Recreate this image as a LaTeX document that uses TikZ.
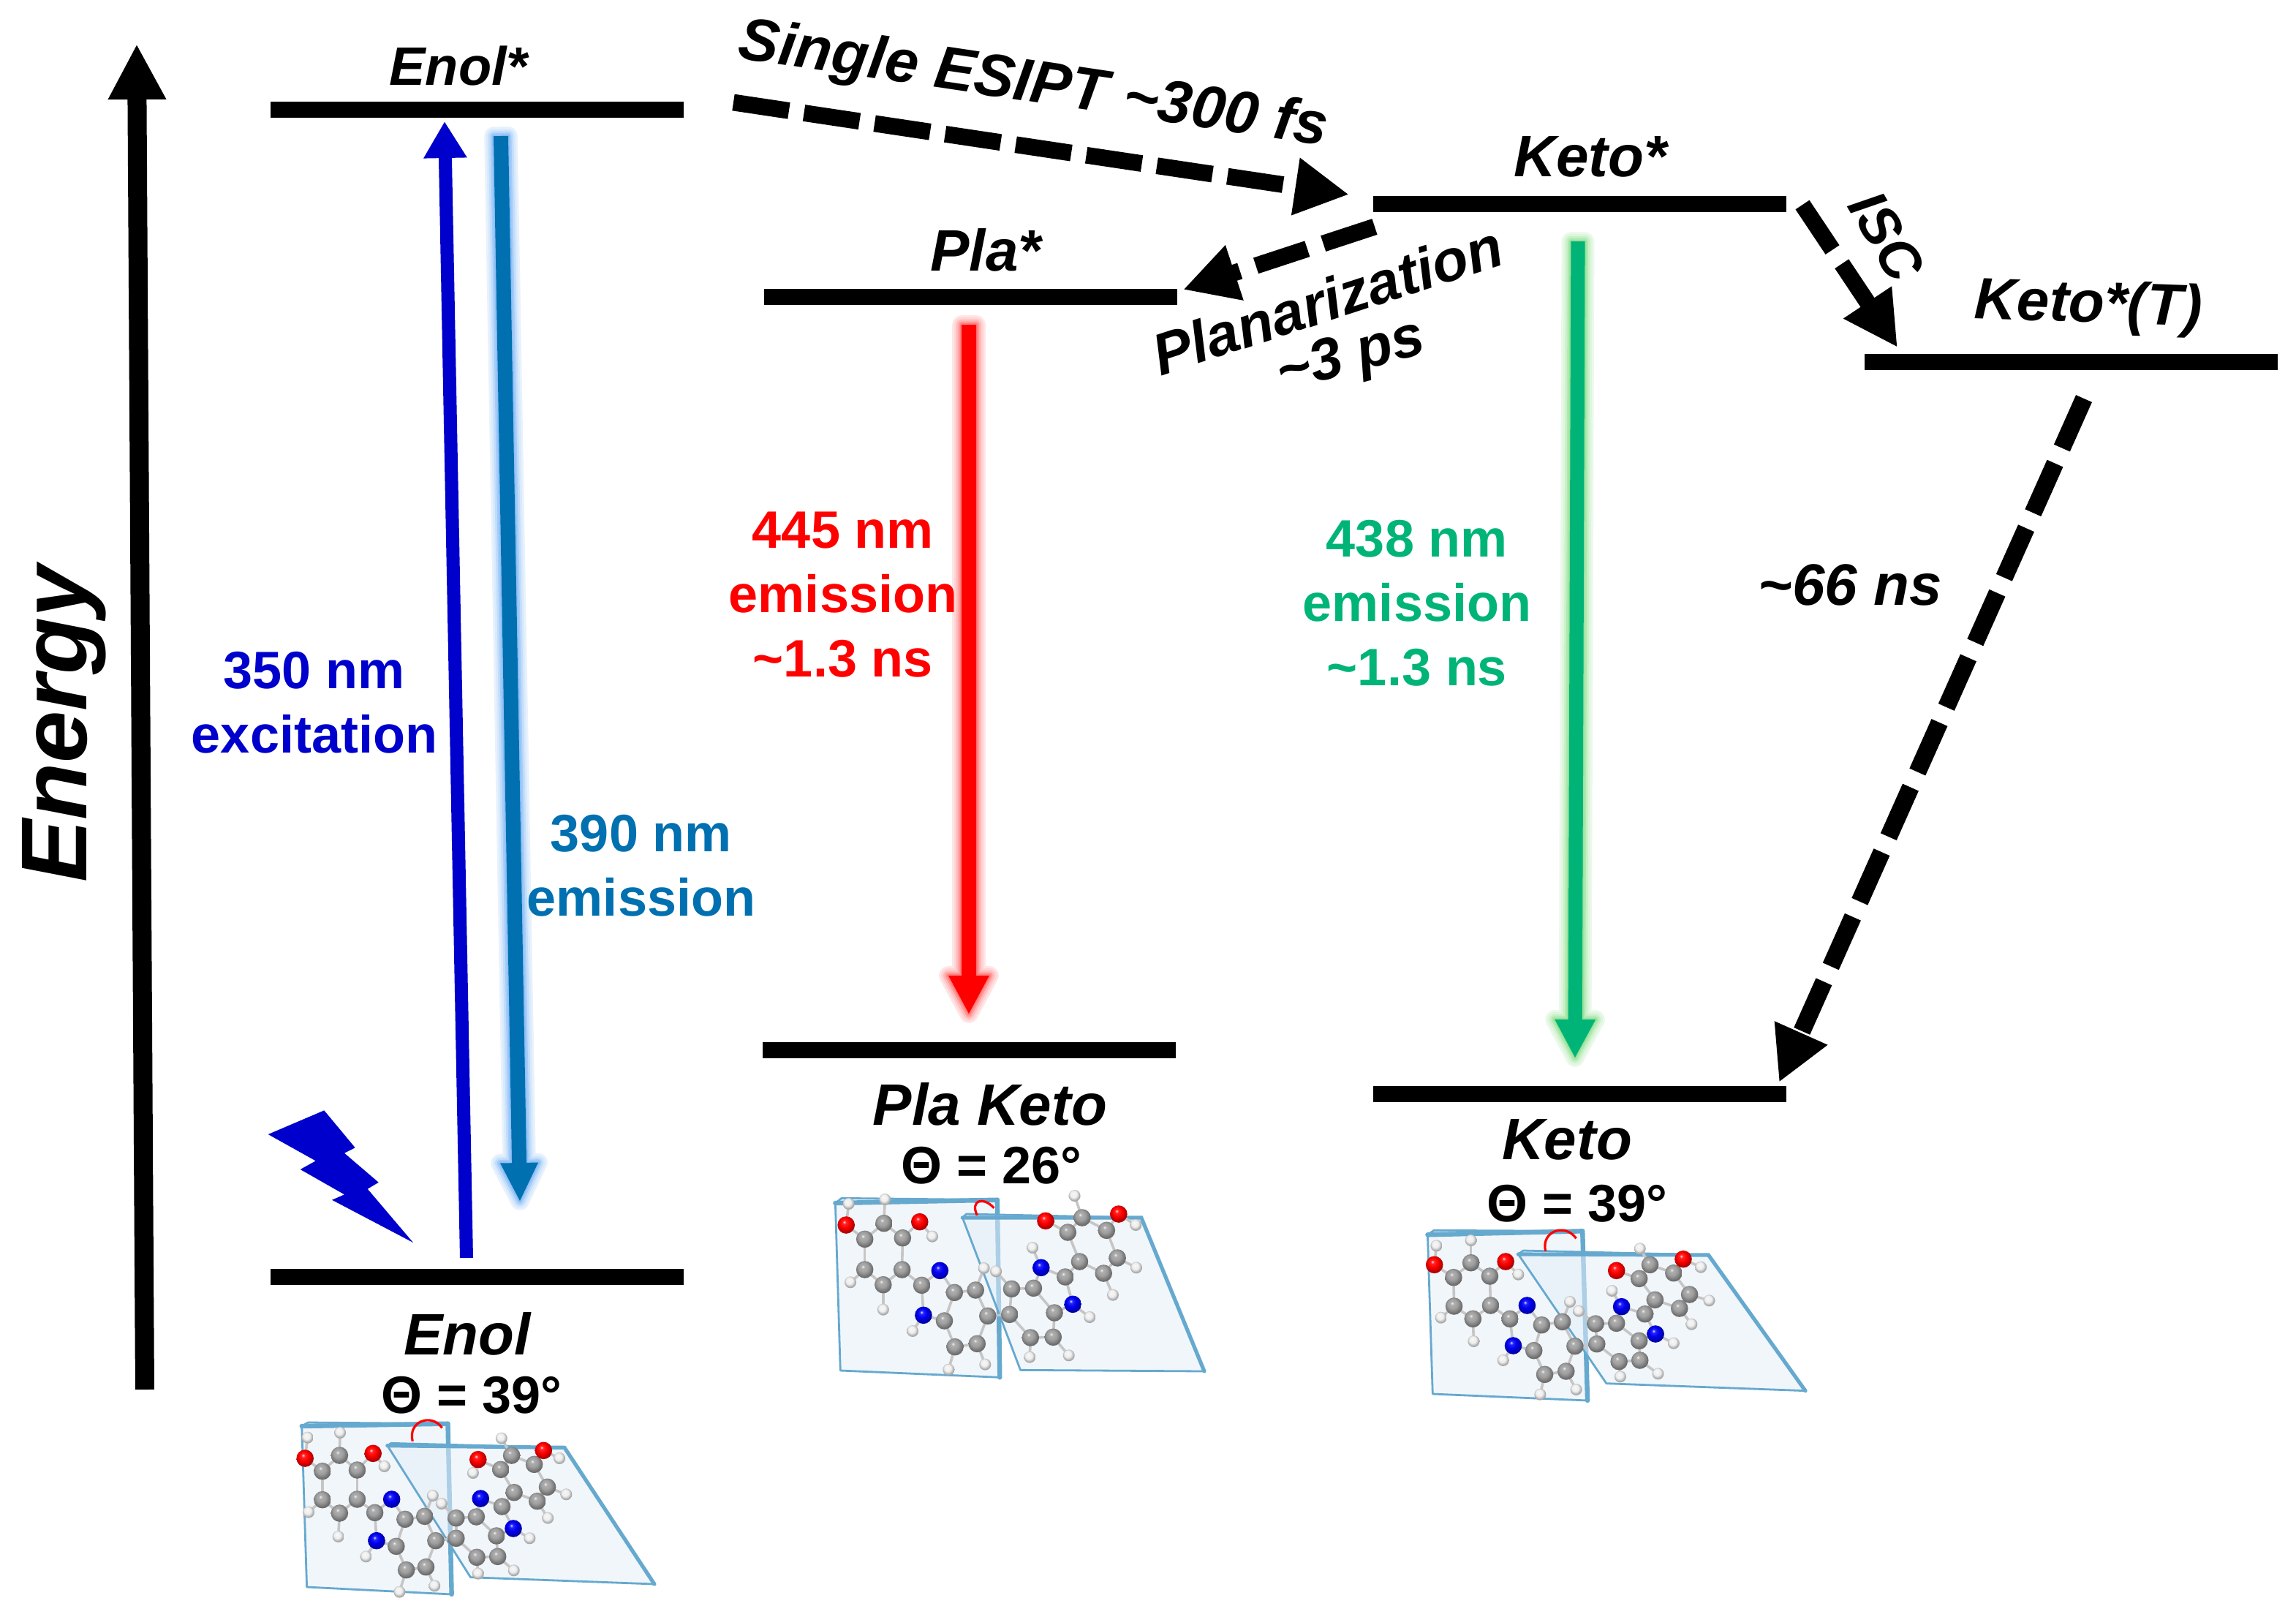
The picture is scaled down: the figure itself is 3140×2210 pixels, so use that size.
\documentclass[tikz,border=0pt]{standalone}
\usepackage{fontspec}
\setmainfont{Liberation Sans}
\usetikzlibrary{arrows.meta,calc}
\definecolor{exblue}{HTML}{0000CC}
\definecolor{emblue}{HTML}{0070B0}
\definecolor{emred}{HTML}{FF0000}
\definecolor{emgreen}{HTML}{00B478}
\definecolor{glowblue}{HTML}{80B8F5}
\definecolor{glowred}{HTML}{FF7070}
\definecolor{glowgreen}{HTML}{90E090}
\definecolor{plateedge}{HTML}{66A9CF}
\definecolor{platefill}{HTML}{E6F0F9}
\makeatletter
\pgfdeclareradialshading[tikz@ball]{softball}{\pgfqpoint{-6bp}{9bp}}{color(0bp)=(tikz@ball!10!white);color(5bp)=(tikz@ball!85!white);color(14bp)=(tikz@ball);color(25bp)=(tikz@ball!70!black);color(50bp)=(tikz@ball!55!black)}
\makeatother
\tikzset{
 level/.style={fill=black,inner sep=0pt,minimum width=141.25pt,minimum height=5.5pt},
 lab/.style={font=\fontsize{20}{24}\selectfont\bfseries\itshape,inner sep=0pt,text=black},
 theta/.style={font=\fontsize{18}{22}\selectfont\bfseries,inner sep=0pt},
 emis/.style={font=\fontsize{18}{22}\selectfont\bfseries,inner sep=0pt,align=center},
 dasharrow/.style={line width=5.7pt,dash pattern=on 18.5pt off 5.75pt,-{Triangle[length=18.5pt,width=18.5pt,sep=0pt]}},
 bond/.style={line width=0.9pt,draw=gray!45},
 plate/.style={fill=platefill,fill opacity=0.55,draw=plateedge,line width=0.7pt,line join=round},
 thickedge/.style={draw=plateedge,line width=1.6pt,line cap=round},
 carbon/.style={ball color=gray!75,shading=softball},
 nitrogen/.style={ball color=blue!95!black,shading=softball},
 oxygen/.style={ball color=red,shading=softball},
 hydrogen/.style={ball color=white!88!gray,shading=softball}
}
\newcommand{\glowarrow}[6]{% colour, glow, from, to, shaft half width, head half width
 \coordinate (#3b) at ($(#4)!13pt!(#3)$);
 \coordinate (#3p1) at ($(#3)!#5!90:(#4)$);
 \coordinate (#3p2) at ($(#3b)!#5!90:(#4)$);
 \coordinate (#3p3) at ($(#3b)!#6!90:(#4)$);
 \coordinate (#3p4) at ($(#3b)!#6!-90:(#4)$);
 \coordinate (#3p5) at ($(#3b)!#5!-90:(#4)$);
 \coordinate (#3p6) at ($(#3)!#5!-90:(#4)$);
 \foreach \w/\m in {6.4/18,5/30,3.6/48,2.2/72,1/90}
  {\filldraw[draw=#2!\m!white,fill=#2!\m!white,line join=round,line width=\w pt]
   (#3p1)--(#3p2)--(#3p3)--(#4)--(#3p4)--(#3p5)--(#3p6)--cycle;}
 \fill[#1] (#3p1)--(#3p2)--(#3p3)--(#4)--(#3p4)--(#3p5)--(#3p6)--cycle;
}
\newcommand{\molecule}[5]{% prefix, ox, oy, coordinate list, parent of H13
 \begin{scope}[shift={(#2,#3)},x=0.0861pt,y=-0.08333pt]
 \foreach \n/\px/\py in {#4} {\coordinate (#1\n) at (\px,\py);}
 \path[plate] (#1pl1)--(#1pl2)--(#1pl3)--(#1pl4)--(#1pl5)--cycle;
 \draw[thickedge] (#1pl1)--(#1pl3);
 \draw[thickedge] (#1pl3)--(#1pl4);
 \path[plate] (#1pr1)--(#1pr2)--(#1pr3)--(#1pr4)--(#1pr5)--cycle;
 \draw[thickedge,line width=1.3pt] (#1pr1)--(#1pr3)--(#1pr4);
 \draw[red,line width=0.8pt] (#1a1) .. controls (#1a2) and (#1a3) .. (#1a4);
 \foreach \a/\b in {c1/c2,c2/c3,c3/c4,c4/c5,c5/c6,c6/c1,c4/c7,c7/N1,c7/N2,N1/c8,N2/c13,c8/c9,c9/c10,c10/c11,c11/c12,c12/c13,c13/c8,c10/c14,c14/c15,c15/c16,c16/c17,c17/c18,c18/c19,c19/c14,c16/N3,N3/c20,N4/c20,c17/N4,c20/c21,c21/c22,c22/c23,c23/c24,c24/c25,c25/c26,c26/c21,c1/O1,c3/O2,O1/h1,c2/h2,O2/h3,c5/h4,c6/h5,N2/h6,c9/h7,c11/h8,c12/h9,c15/h10,c18/h11,c19/h12,c22/O3,c24/O4,#5/h13,c23/h14,O4/h15,c25/h16,c26/h17,N4/h18}
  {\draw[bond] (#1\a) -- (#1\b);}
 \foreach \n in {1,...,18} {\shade[hydrogen] (#1h\n) circle (2.0pt);}
 \foreach \n in {1,...,26} {\shade[carbon] (#1c\n) circle (2.95pt);}
 \foreach \n in {1,...,4} {\shade[nitrogen] (#1N\n) circle (2.95pt);}
 \foreach \n in {1,...,4} {\shade[oxygen] (#1O\n) circle (2.95pt);}
 \end{scope}
}
\begin{document}
\begin{tikzpicture}[x=0.25pt,y=-0.25pt]
\useasboundingbox (0,0) rectangle (3140,2210);
\fill[white] (0,0) rectangle (3140,2210);

% levels
\node[level] (enolS) at (652,150) {};
\node[level] (ketoS) at (2160,279) {};
\node[level] (plaS) at (1327,406) {};
\node[level] (ketoT) at (2832,495) {};
\node[level] (enol) at (652,1746) {};
\node[level] (plaK) at (1325,1436) {};
\node[level] (keto) at (2160,1496) {};

% energy axis
\coordinate (eFrom) at (198,1900);
\coordinate (eTo) at (187,60);
\draw[line width=6.5pt,-{Triangle[length=19pt,width=18.5pt,sep=0pt]}] (eFrom) -- (eTo);
\node[font=\fontsize{32}{36}\selectfont\bfseries\itshape,rotate=90,inner sep=0pt] (energy) at (88,990) {Energy};

% vertical transitions
\coordinate (exFrom) at (638,1720);
\coordinate (exTo) at (608,166);
\draw[exblue,line width=4.5pt,-{Triangle[length=12.5pt,width=14pt,sep=0pt]}] (exFrom) -- (exTo);
\coordinate (eA) at (685,186);
\coordinate (eAto) at (711,1642);
\glowarrow{emblue}{glowblue}{eA}{eAto}{2.5pt}{6.5pt}
\coordinate (eB) at (1325,444);
\coordinate (eBto) at (1325,1386);
\glowarrow{emred}{glowred}{eB}{eBto}{2.5pt}{7pt}
\coordinate (eC) at (2158,330);
\coordinate (eCto) at (2154,1446);
\glowarrow{emgreen}{glowgreen}{eC}{eCto}{2.4pt}{7pt}

% dashed transitions
\coordinate (esiptFrom) at (1003,140);
\coordinate (esiptTo) at (1845,266);
\draw[dasharrow,dash pattern=on 19.2pt off 5.2pt] (esiptFrom) -- (esiptTo);
\coordinate (planFrom) at (1880,310);
\coordinate (planTo) at (1618,396);
\draw[dasharrow] (planFrom) -- (planTo);
\coordinate (iscFrom) at (2465,280);
\coordinate (iscTo) at (2595,475);
\draw[dasharrow] (iscFrom) -- (iscTo);
\coordinate (tFrom) at (2850,545);
\coordinate (tTo) at (2433,1480);
\draw[dasharrow,line width=6pt] (tFrom) -- (tTo);

% lightning
\fill[exblue] (443.3,1518.3)--(485.7,1569.3)--(471,1576.7)--(517.7,1616.7)--(502.7,1625.7)--(565,1699)--(454,1640.7)--(471,1633.3)--(410.7,1599)--(431.7,1587.3)--(366.7,1551)--cycle;

% labels
\node[lab,font=\fontsize{18.5}{22}\selectfont\bfseries\itshape] (tEnolS) at (627,90) {Enol*};
\node[lab] (tPlaS) at (1348,342) {Pla*};
\node[lab] (tKetoS) at (2175,214) {Keto*};
\node[lab,rotate=-2] (tKetoT) at (2856,420) {Keto*(T)};
\node[lab,rotate=-8.5,font=\fontsize{20.6}{26}\selectfont\bfseries\itshape] (tEsipt) at (1413,118) {Single ESIPT \textasciitilde 300 fs};
\node[lab,rotate=18] (tPlan) at (1815,410) {Planarization};
\node[lab,rotate=15] (tPlanT) at (1848,490) {\textasciitilde 3 ps};
\node[lab,rotate=-60,font=\fontsize{19}{22}\selectfont\bfseries\itshape] (tIsc) at (2580,323) {ISC};
\node[lab] (t66) at (2530,800) {\textasciitilde 66 ns};
\node[emis,text=exblue] (t350) at (430,961) {350 nm\\excitation};
\node[emis,text=emblue] (t390) at (877,1184) {390 nm\\emission};
\node[emis,text=emred] (t445) at (1153,813) {445 nm\\emission\\\textasciitilde 1.3 ns};
\node[emis,text=emgreen] (t438) at (1938,825) {438 nm\\emission\\\textasciitilde 1.3 ns};
\node[lab] (tPlaK) at (1354,1510) {Pla Keto};
\node[theta] (thP) at (1356,1594) {Θ = 26°};
\node[lab] (tKeto) at (2143,1558) {Keto};
\node[theta] (thK) at (2157,1646) {Θ = 39°};
\node[lab] (tEnol) at (639,1824) {Enol};
\node[theta] (thE) at (645,1908) {Θ = 39°};

% molecules
\molecule{E}{380}{1900}{pl1/95/150,pl2/120/135,pl3/675/140,pl4/690/840,pl5/115/810,pr1/435/230,pr2/450/220,pr3/1138/238,pr4/1495/798,pr5/765/770,a1/535/212,a2/515/130,a3/610/95,a4/652/157,
c1/177/335,c2/245/270,c3/315/330,c4/315/450,c5/245/507,c6/177/452,O1/108/282,O2/378/262,h1/118/197,h2/247/177,h3/423/315,h4/240/603,h5/122/503,c7/385/505,N1/452/450,N2/392/620,h6/350/685,c8/505/532,c9/583/520,c10/627/620,c11/588/728,c12/510/740,c13/470/643,h7/615/435,h8/622/805,h9/483/830,c14/708/610,c15/708/527,c16/788/522,c17/868/600,c18/873/685,c19/790/688,h10/650/468,h11/937/742,h12/795/755,N3/805/447,N4/935/570,c20/890/480,c21/938/422,c22/885/328,c23/928/270,c24/1018/307,c25/1070/400,c26/1030/458,O3/795/287,O4/1055/250,h13/775/342,h14/888/200,h15/1118/282,h16/1145/430,h17/1072/527,h18/1000/610}{O3}

\molecule{P}{1120}{1600}{pl1/65/135,pl2/90/115,pl3/708/122,pl4/718/850,pl5/85/822,pr1/570/195,pr2/585/180,pr3/1280/195,pr4/1530/825,pr5/800/820,a1/628/185,a2/600/125,a3/650/105,a4/695/155,
c1/182/283,c2/258/218,c3/332/278,c4/330/408,c5/255/470,c6/182/408,O1/108/225,O2/400/212,h1/118/138,h2/262/120,h3/450/272,h4/255/572,h5/125/460,c7/408/472,N1/480/412,N2/415/595,h6/372/660,c8/538/502,c9/622/492,c10/670/598,c11/628/712,c12/540/725,c13/498/618,h7/655/402,h8/660/797,h9/515/818,c14/757/592,c15/765/487,c16/852/484,c17/935/585,c18/930/685,c19/840/687,h10/703/415,h11/992/760,h12/837/767,N3/882/400,N4/1008/550,c20/978/438,c21/1035/375,c22/988/255,c23/1045/195,c24/1142/247,c25/1185/360,c26/1130/423,O3/900/208,O4/1190/180,h13/848/318,h14/1015/105,h15/1258/225,h16/1260/400,h17/1167/512,h18/1075/603}{N3}

\molecule{K}{1930}{1650}{pl1/65/115,pl2/90/97,pl3/680/100,pl4/700/795,pl5/85/768,pr1/425/195,pr2/445/180,pr3/1180/198,pr4/1565/755,pr5/775/725,a1/533/182,a2/515/100,a3/610/65,a4/655/130,
c1/168/290,c2/237/230,c3/312/285,c4/315/405,c5/245/460,c6/170/408,O1/92/238,O2/375/225,h1/100/160,h2/237/138,h3/425/278,h4/248/552,h5/118/455,c7/392/460,N1/460/405,N2/405/570,h6/365/630,c8/518/485,c9/600/472,c10/650/572,c11/615/675,c12/530/688,c13/487/590,h7/630/390,h8/655/750,h9/512/770,c14/737/563,c15/732/480,c16/815/478,c17/905/550,c18/908/630,c19/825/635,h10/665/428,h11/980/685,h12/830/697,N3/835/410,N4/970/522,c20/928/440,c21/968/382,c22/905/295,c23/948/238,c24/1042/272,c25/1105/360,c26/1065/417,O3/815/262,O4/1080/215,h13/797/345,h14/908/172,h15/1150/248,h16/1183/385,h17/1113/482,h18/1042/560}{N3}
\end{tikzpicture}
\end{document}
